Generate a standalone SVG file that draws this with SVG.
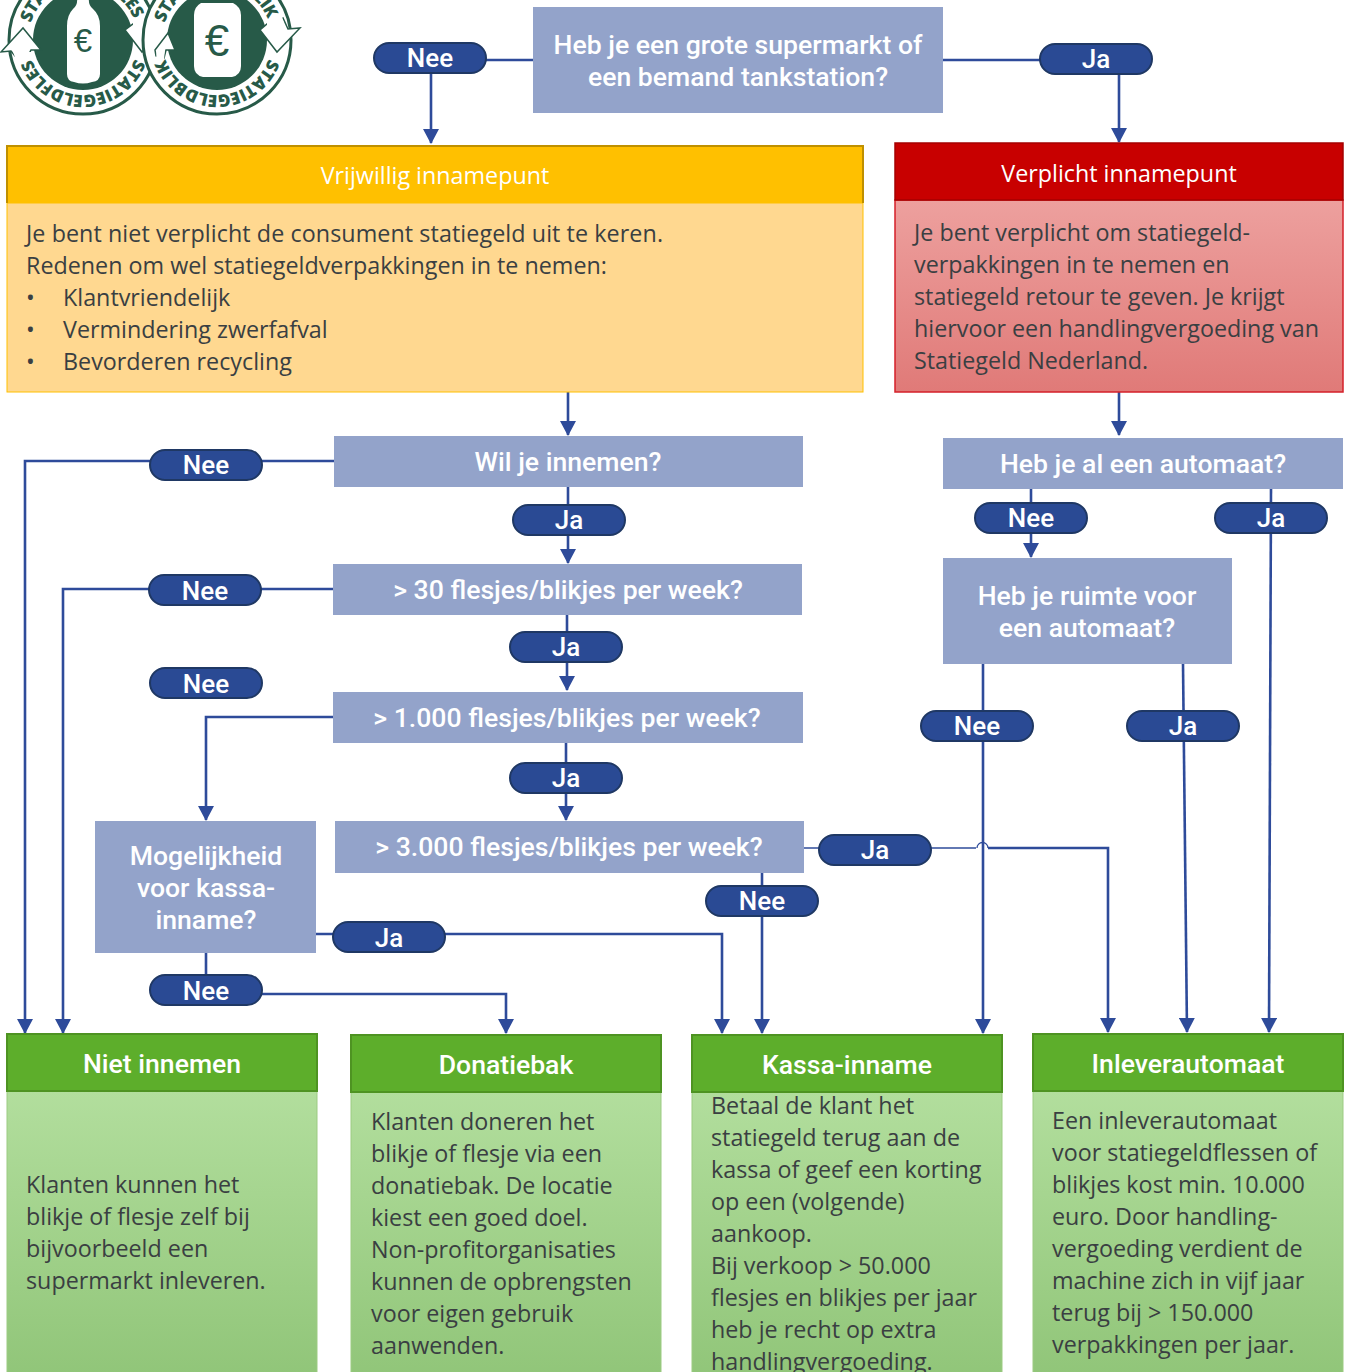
<svg xmlns="http://www.w3.org/2000/svg" xmlns:xlink="http://www.w3.org/1999/xlink" width="1350" height="1372" viewBox="0 0 1350 1372">
<style>
text{font-family:"Open Sans","Noto Sans","Liberation Sans",sans-serif}
.q{fill:#93A3CA}
.qt,.pt,.h{font-family:Roboto,"Liberation Sans",sans-serif;fill:#fff;font-size:26.6px;font-weight:500;text-anchor:middle}
.pt{font-size:26px}
.pill{fill:#2A4A94;stroke:#1F3864;stroke-width:2}
.c{fill:none;stroke:#2E4B9A;stroke-width:2.6}
.a{marker-end:url(#arr)}
.b{fill:#3A3F42;font-size:23.3px}
.gh{fill:#5DAE2B;stroke:#4E9322;stroke-width:2}
.gb{fill:url(#gg);stroke:#9CCB82;stroke-width:1}
.lg{fill:#275A48}
.lt{fill:#275A48;font-size:17px;font-weight:800}
.e{fill:#275A48;text-anchor:middle;font-family:"Liberation Sans",sans-serif}
.aw{fill:#fff;stroke:#275A48;stroke-width:1.500;stroke-linejoin:miter}
</style>
<defs>
<marker id="arr" markerUnits="userSpaceOnUse" markerWidth="16" markerHeight="16" refX="14" refY="8" orient="auto"><path d="M0 0L15 8L0 16Z" fill="#2E4B9A"/></marker>
<linearGradient id="gg" x1="0" y1="0" x2="0" y2="1"><stop offset="0" stop-color="#B2DE9D"/><stop offset="1" stop-color="#8FC477"/></linearGradient>
<linearGradient id="rg" x1="0" y1="0" x2="0" y2="1"><stop offset="0" stop-color="#EDA09E"/><stop offset="1" stop-color="#E07A78"/></linearGradient>
<path id="lb1" d="M134.700 58.800A55 55 0 0 1 29.900 54.200" fill="none"/>
<path id="lb2" d="M268.700 58.800A55 55 0 0 1 163.900 54.200" fill="none"/>
<path id="lt1" d="M30.700 23A55 55 0 0 1 134.700 21.200" fill="none"/>
<path id="lt2" d="M164.700 23A55 55 0 0 1 268.700 21.200" fill="none"/>
</defs>

<g id="logo">
<g id="logo-fles">
<circle cx="83" cy="40" r="74" fill="#fff" stroke="#275A48" stroke-width="3"/>
<circle class="lg" cx="83" cy="40" r="50"/>
<path d="M77 -2H89Q88 5 93 9Q100 15 100 26V74Q100 81 92 82Q83 85 74 82Q67 81 67 74V26Q67 15 73 9Q78 5 77 -2Z" fill="#fff"/>
<text class="e" x="83" y="52" font-size="33">€</text>
<text class="lt"><textPath xlink:href="#lb1" href="#lb1" textLength="134">STATIEGELDFLES</textPath></text>
<text class="lt"><textPath xlink:href="#lt1" href="#lt1" textLength="134">STATIEGELDFLES</textPath></text>
<path class="aw" d="M11 51L1 52L23 28L41 50L31 50L28 56L15 56Z"/>
<path d="M13 52H31L33 60L16 60Z" fill="#fff"/>
<path class="aw" d="M125 30L142 52L162 30L152 29L147 18L133 24Z"/>
<path d="M133 28L150 28L148 16L133 20Z" fill="#fff"/>
</g>
<g id="logo-blik">
<circle cx="217" cy="40" r="74" fill="#fff" stroke="#275A48" stroke-width="3"/>
<circle class="lg" cx="217" cy="40" r="50"/>
<path d="M201 3H233Q241 7 241 15V66Q241 75 232 77H203Q194 75 194 66V15Q194 7 201 3Z" fill="#fff"/>
<text class="e" x="217" y="56" font-size="44">€</text>
<text class="lt"><textPath xlink:href="#lb2" href="#lb2" textLength="134">STATIEGELDBLIK</textPath></text>
<text class="lt"><textPath xlink:href="#lt2" href="#lt2" textLength="134">STATIEGELDBLIK</textPath></text>
<path class="aw" d="M155 50L168 33L175 50L166 50L164 58L156 56Z"/>
<path d="M157 49H165L164 60L156 60Z" fill="#fff"/>
<path class="aw" d="M260 30L277 52L300 28L288 29L283 18L267 24Z"/>
<path d="M267 28L285 28L282 16L267 20Z" fill="#fff"/>
</g>
</g>

<g id="connectors">
<path class="c a" d="M533 60H431V143"/>
<path class="c a" d="M943 60H1119V142"/>
<path class="c a" d="M568 392V435"/>
<path class="c a" d="M1119 392V435"/>
<path class="c a" d="M334 461H25V1033"/>
<path class="c a" d="M568 487V563"/>
<path class="c a" d="M333 589H63V1033"/>
<path class="c a" d="M567 615V690"/>
<path class="c a" d="M333 717H206V820"/>
<path class="c a" d="M566 743V820"/>
<path class="c" d="M804 848H976" style="stroke-width:1.300"/>
<path class="c" d="M977 848A5.500 5.500 0 0 1 988 848" style="stroke-width:1.300"/>
<path class="c a" d="M988 848H1108V1032"/>
<path class="c a" d="M762 873V1033"/>
<path class="c a" d="M313 934H722V1033"/>
<path class="c a" d="M206 953V994H506V1033"/>
<path class="c a" d="M1031 489V557"/>
<path class="c a" d="M1271 489L1269 1032"/>
<path class="c a" d="M983 664V1033"/>
<path class="c a" d="M1183 664L1187 1032"/>
</g>

<g id="n-top"><rect class="q" x="533" y="7" width="410" height="106"/><text class="qt" x="738" y="54">Heb je een grote supermarkt of</text><text class="qt" x="738" y="86">een bemand tankstation?</text></g>

<g id="n-vrijwillig">
<rect x="7" y="203" width="856" height="189" fill="#FFD890" stroke="#FFC000" stroke-width="1"/>
<rect x="7" y="146" width="856" height="57" fill="#FFC000"/>
<path d="M7 203V146H863V203" fill="none" stroke="#BF9000" stroke-width="2"/>
<text x="435" y="184" fill="#fff" font-size="23.300" text-anchor="middle">Vrijwillig innamepunt</text>
<text class="b" x="26" y="242" textLength="637">Je bent niet verplicht de consument statiegeld uit te keren.</text>
<text class="b" x="26" y="274">Redenen om wel statiegeldverpakkingen in te nemen:</text>
<text class="b" x="26" y="306">•</text><text class="b" x="63" y="306">Klantvriendelijk</text>
<text class="b" x="26" y="338">•</text><text class="b" x="63" y="338">Vermindering zwerfafval</text>
<text class="b" x="26" y="370">•</text><text class="b" x="63" y="370">Bevorderen recycling</text>
</g>

<g id="n-verplicht">
<rect x="895" y="200" width="448" height="192" fill="url(#rg)" stroke="#D5202A" stroke-width="1.500"/>
<rect x="895" y="143" width="448" height="57" fill="#C80000" stroke="#A50000" stroke-width="1.500"/>
<text x="1119" y="182" fill="#fff" font-size="23.300" text-anchor="middle">Verplicht innamepunt</text>
<text class="b" x="914" y="241">Je bent verplicht om statiegeld-</text>
<text class="b" x="914" y="273">verpakkingen in te nemen en</text>
<text class="b" x="914" y="305">statiegeld retour te geven. Je krijgt</text>
<text class="b" x="914" y="337">hiervoor een handlingvergoeding van</text>
<text class="b" x="914" y="369">Statiegeld Nederland.</text>
</g>

<g id="n-innemen"><rect class="q" x="334" y="436" width="469" height="51"/><text class="qt" x="568" y="471">Wil je innemen?</text></g>
<g id="n-30"><rect class="q" x="333" y="564" width="469" height="51"/><text class="qt" x="568" y="599">&gt; 30 flesjes/blikjes per week?</text></g>
<g id="n-1000"><rect class="q" x="333" y="692" width="470" height="51"/><text class="qt" x="567" y="727">&gt; 1.000 flesjes/blikjes per week?</text></g>
<g id="n-3000"><rect class="q" x="335" y="821" width="469" height="52"/><text class="qt" x="569" y="856">&gt; 3.000 flesjes/blikjes per week?</text></g>
<g id="n-kassa-q"><rect class="q" x="95" y="821" width="221" height="132"/><text class="qt" x="206" y="865">Mogelijkheid</text><text class="qt" x="206" y="897">voor kassa-</text><text class="qt" x="206" y="929">inname?</text></g>
<g id="n-automaat"><rect class="q" x="943" y="438" width="400" height="51"/><text class="qt" x="1143" y="473">Heb je al een automaat?</text></g>
<g id="n-ruimte"><rect class="q" x="943" y="558" width="289" height="106"/><text class="qt" x="1087" y="605">Heb je ruimte voor</text><text class="qt" x="1087" y="637">een automaat?</text></g>

<g id="labels">
<g><rect class="pill" x="374" y="43" width="112" height="30" rx="15"/><text class="pt" x="430" y="67">Nee</text></g>
<g><rect class="pill" x="1040" y="44" width="112" height="30" rx="15"/><text class="pt" x="1096" y="68">Ja</text></g>
<g><rect class="pill" x="150" y="450" width="112" height="30" rx="15"/><text class="pt" x="206" y="474">Nee</text></g>
<g><rect class="pill" x="513" y="505" width="112" height="30" rx="15"/><text class="pt" x="569" y="529">Ja</text></g>
<g><rect class="pill" x="149" y="575" width="112" height="30" rx="15"/><text class="pt" x="205" y="600">Nee</text></g>
<g><rect class="pill" x="510" y="632" width="112" height="30" rx="15"/><text class="pt" x="566" y="656">Ja</text></g>
<g><rect class="pill" x="150" y="668" width="112" height="30" rx="15"/><text class="pt" x="206" y="693">Nee</text></g>
<g><rect class="pill" x="510" y="763" width="112" height="30" rx="15"/><text class="pt" x="566" y="787">Ja</text></g>
<g><rect class="pill" x="819" y="835" width="112" height="30" rx="15"/><text class="pt" x="875" y="859">Ja</text></g>
<g><rect class="pill" x="706" y="886" width="112" height="30" rx="15"/><text class="pt" x="762" y="910">Nee</text></g>
<g><rect class="pill" x="333" y="922" width="112" height="30" rx="15"/><text class="pt" x="389" y="947">Ja</text></g>
<g><rect class="pill" x="150" y="975" width="112" height="30" rx="15"/><text class="pt" x="206" y="1000">Nee</text></g>
<g><rect class="pill" x="975" y="503" width="112" height="30" rx="15"/><text class="pt" x="1031" y="527">Nee</text></g>
<g><rect class="pill" x="1215" y="503" width="112" height="30" rx="15"/><text class="pt" x="1271" y="527">Ja</text></g>
<g><rect class="pill" x="921" y="711" width="112" height="30" rx="15"/><text class="pt" x="977" y="735">Nee</text></g>
<g><rect class="pill" x="1127" y="711" width="112" height="30" rx="15"/><text class="pt" x="1183" y="735">Ja</text></g>
</g>

<g id="n-niet">
<rect class="gb" x="7" y="1091" width="310" height="300"/><rect class="gh" x="7" y="1034" width="310" height="57"/>
<text class="h" x="162" y="1073">Niet innemen</text>
<text class="b" x="26" y="1193">Klanten kunnen het</text>
<text class="b" x="26" y="1225">blikje of flesje zelf bij</text>
<text class="b" x="26" y="1257">bijvoorbeeld een</text>
<text class="b" x="26" y="1289">supermarkt inleveren.</text>
</g>
<g id="n-donatie">
<rect class="gb" x="351" y="1092" width="310" height="300"/><rect class="gh" x="351" y="1035" width="310" height="57"/>
<text class="h" x="506" y="1074">Donatiebak</text>
<text class="b" x="371" y="1130">Klanten doneren het</text>
<text class="b" x="371" y="1162">blikje of flesje via een</text>
<text class="b" x="371" y="1194">donatiebak. De locatie</text>
<text class="b" x="371" y="1226">kiest een goed doel.</text>
<text class="b" x="371" y="1258">Non-profitorganisaties</text>
<text class="b" x="371" y="1290">kunnen de opbrengsten</text>
<text class="b" x="371" y="1322">voor eigen gebruik</text>
<text class="b" x="371" y="1354">aanwenden.</text>
</g>
<g id="n-kassa">
<rect class="gb" x="692" y="1092" width="310" height="300"/><rect class="gh" x="692" y="1035" width="310" height="57"/>
<text class="h" x="847" y="1074">Kassa-inname</text>
<text class="b" x="711" y="1114">Betaal de klant het</text>
<text class="b" x="711" y="1146">statiegeld terug aan de</text>
<text class="b" x="711" y="1178">kassa of geef een korting</text>
<text class="b" x="711" y="1210">op een (volgende)</text>
<text class="b" x="711" y="1242">aankoop.</text>
<text class="b" x="711" y="1274">Bij verkoop &gt; 50.000</text>
<text class="b" x="711" y="1306">flesjes en blikjes per jaar</text>
<text class="b" x="711" y="1338">heb je recht op extra</text>
<text class="b" x="711" y="1370">handlingvergoeding.</text>
</g>
<g id="n-inlever">
<rect class="gb" x="1033" y="1091" width="310" height="300"/><rect class="gh" x="1033" y="1034" width="310" height="57"/>
<text class="h" x="1188" y="1073">Inleverautomaat</text>
<text class="b" x="1052" y="1129">Een inleverautomaat</text>
<text class="b" x="1052" y="1161">voor statiegeldflessen of</text>
<text class="b" x="1052" y="1193">blikjes kost min. 10.000</text>
<text class="b" x="1052" y="1225">euro. Door handling-</text>
<text class="b" x="1052" y="1257">vergoeding verdient de</text>
<text class="b" x="1052" y="1289">machine zich in vijf jaar</text>
<text class="b" x="1052" y="1321">terug bij &gt; 150.000</text>
<text class="b" x="1052" y="1353">verpakkingen per jaar.</text>
</g>
</svg>
